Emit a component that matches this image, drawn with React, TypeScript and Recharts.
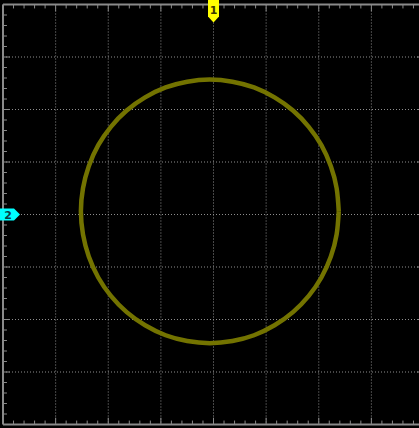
import React from 'react';
import { LineChart, Line, XAxis, YAxis, CartesianGrid, ReferenceDot, ReferenceLine } from 'recharts';

// XY-mode trace, in divisions (x: CH1, y: CH2)
const traceX = [2.38, 2.34, 2.23, 2.05, 1.81, 1.51, 1.16, 0.77, 0.36, -0.07, -0.5, -0.91, -1.3, -1.65, -1.95, -2.19, -2.37, -2.48, -2.52, -2.48, -2.37, -2.19, -1.95, -1.65, -1.3, -0.91, -0.5, -0.07, 0.36, 0.77, 1.16, 1.51, 1.81, 2.05, 2.23, 2.34, 2.38];
const traceY = [0.06, 0.5, 0.92, 1.32, 1.67, 1.98, 2.23, 2.42, 2.53, 2.57, 2.53, 2.42, 2.23, 1.98, 1.67, 1.32, 0.92, 0.5, 0.06, -0.38, -0.8, -1.2, -1.55, -1.86, -2.11, -2.3, -2.41, -2.45, -2.41, -2.3, -2.11, -1.86, -1.55, -1.2, -0.8, -0.38, 0.06];

const majorTicks = [-4, -3, -2, -1, 0, 1, 2, 3, 4];
const minorTicks: number[] = [];
for (let i = -19; i <= 19; i++) if (i % 5 !== 0) minorTicks.push(i / 5);

const data = traceX.map((x, i) => ({ x, y: traceY[i] }));

const TRACE = '#737300';
const GRID = '#8e8e8e';
const BORDER = '#8a8a8a';
const MINOR = 0.075; // tick length in divisions
const MAJOR = 0.13;

const Ch1Marker = (props: any) => {
  const { cx, cy } = props;
  const t = cy - 5;
  return (
    <g>
      <polygon
        points={`${cx - 5.5},${t} ${cx + 5.5},${t} ${cx + 5.5},${t + 17} ${cx},${t + 23} ${cx - 5.5},${t + 17}`}
        fill="#ffff00"
      />
      <text x={cx} y={t + 14} textAnchor="middle" fontSize={11} fontWeight="bold" fontFamily="DejaVu Sans" fill="#3a3a00">1</text>
    </g>
  );
};

const Ch2Marker = (props: any) => {
  const { cx, cy } = props;
  const l = cx - 3;
  return (
    <g>
      <polygon
        points={`${l},${cy - 6} ${l + 14},${cy - 6} ${l + 20},${cy} ${l + 14},${cy + 6} ${l},${cy + 6}`}
        fill="#00ffff"
      />
      <text x={l + 8} y={cy + 4} textAnchor="middle" fontSize={11} fontWeight="bold" fontFamily="DejaVu Sans" fill="#0a3a44">2</text>
    </g>
  );
};

export default function App() {
  const tickLines: React.ReactNode[] = [];
  const addTicks = (vals: number[], len: number, key: string) => {
    vals.forEach((v) => {
      tickLines.push(<ReferenceLine key={`${key}t${v}`} segment={[{ x: v, y: 4 }, { x: v, y: 4 - len }]} stroke={BORDER} strokeWidth={1} ifOverflow="visible" />);
      tickLines.push(<ReferenceLine key={`${key}b${v}`} segment={[{ x: v, y: -4 }, { x: v, y: -4 + len }]} stroke={BORDER} strokeWidth={1} ifOverflow="visible" />);
      tickLines.push(<ReferenceLine key={`${key}l${v}`} segment={[{ x: -4, y: v }, { x: -4 + len, y: v }]} stroke={BORDER} strokeWidth={1} ifOverflow="visible" />);
      tickLines.push(<ReferenceLine key={`${key}r${v}`} segment={[{ x: 4, y: v }, { x: 4 - len, y: v }]} stroke={BORDER} strokeWidth={1} ifOverflow="visible" />);
    });
  };
  addTicks(minorTicks, MINOR, 'mi');
  addTicks(majorTicks.slice(1, -1), MAJOR, 'ma');

  return (
    <div style={{ position: 'fixed', left: 0, top: 0, width: 426, height: 428, background: '#000' }}>
      <LineChart width={426} height={428} data={data} margin={{ top: 4.5, right: 2, bottom: 3.5, left: 3 }}>
        <CartesianGrid stroke={GRID} strokeDasharray="1 2" />
        <XAxis dataKey="x" type="number" domain={[-4, 4]} ticks={majorTicks} hide allowDataOverflow />
        <YAxis type="number" domain={[-4, 4]} ticks={majorTicks} hide allowDataOverflow />

        <ReferenceLine y={4} stroke={BORDER} strokeWidth={2} ifOverflow="visible" />
        <ReferenceLine y={-4} stroke={BORDER} strokeWidth={2} ifOverflow="visible" />
        <ReferenceLine x={-4} stroke={BORDER} strokeWidth={2} ifOverflow="visible" />
        <ReferenceLine x={4} stroke={BORDER} strokeWidth={2} ifOverflow="visible" />
        {tickLines}

        <Line dataKey="y" type="natural" stroke={TRACE} strokeWidth={4.5} dot={false} isAnimationActive={false} />

        <ReferenceDot x={0} y={4} r={0} ifOverflow="visible" shape={Ch1Marker} />
        <ReferenceDot x={-4} y={0} r={0} ifOverflow="visible" shape={Ch2Marker} />
      </LineChart>
    </div>
  );
}
